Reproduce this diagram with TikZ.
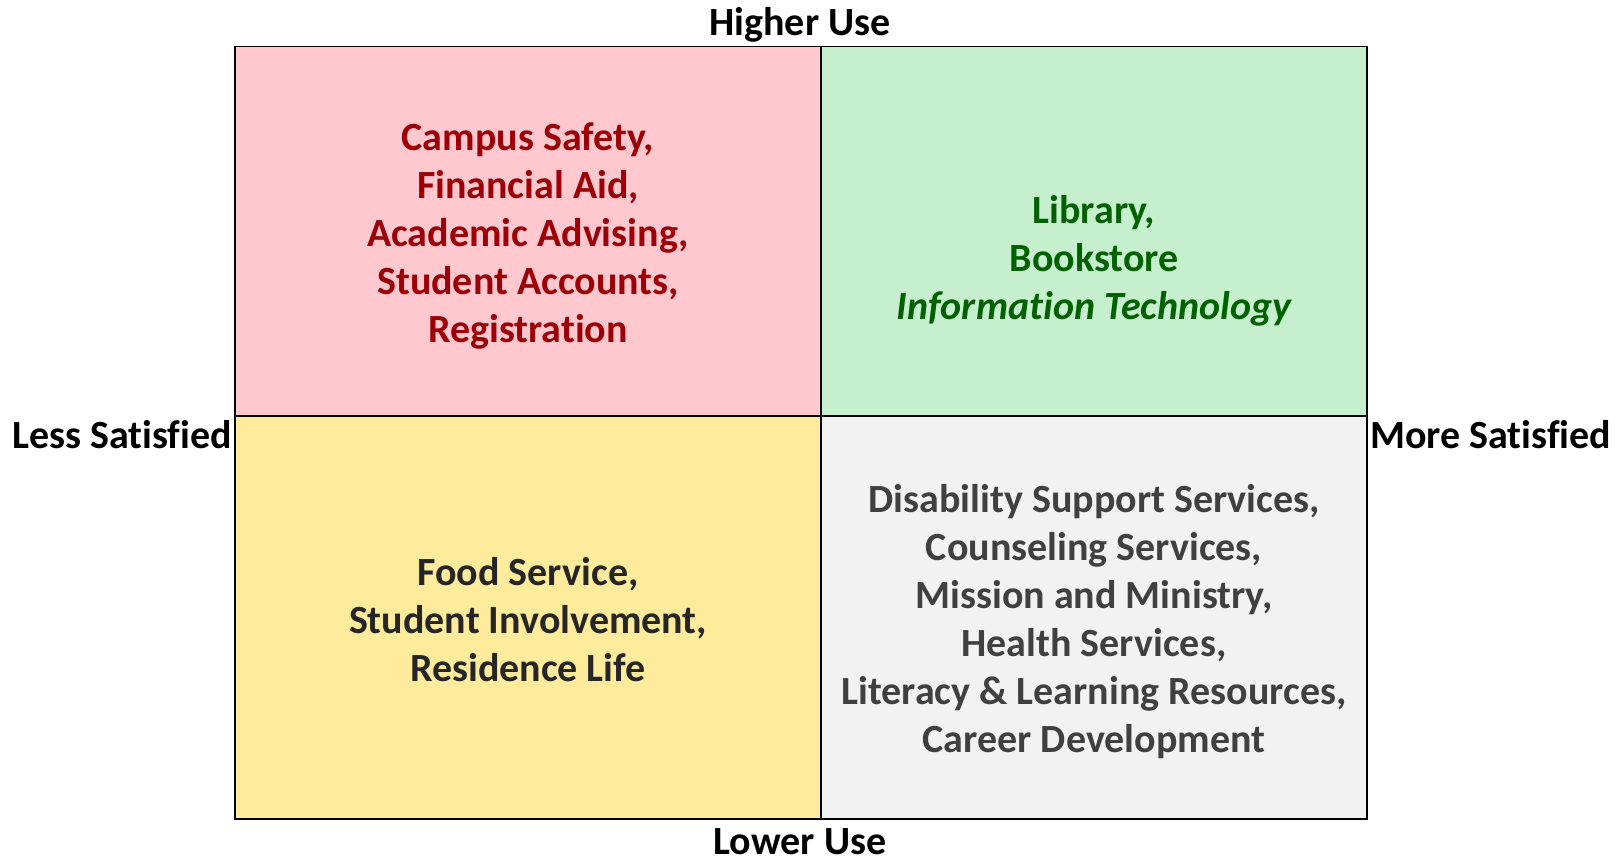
\documentclass[tikz,border=0pt]{standalone}
\usepackage{fontspec}
\setmainfont{Carlito}[Ligatures={NoCommon}]
\usepackage{xcolor}
\usetikzlibrary{
		calc,
		positioning
	}
\definecolor{badfill}{HTML}{FFC7CE}
\definecolor{badtext}{HTML}{9C0006}
\definecolor{goodfill}{HTML}{C6EFCE}
\definecolor{goodtext}{HTML}{006100}
\definecolor{midfill}{HTML}{FFEB9C}
\definecolor{midtext}{HTML}{262626}
\definecolor{greyfill}{HTML}{F2F2F2}
\definecolor{greytext}{HTML}{404040}
\tikzset{
		quadtext/.style={align=center, font=\fontsize{40}{48}\selectfont\bfseries, inner sep=0pt},
		axistext/.style={font=\fontsize{40}{48}\selectfont\bfseries, text=black, inner sep=0pt}
	}

\begin{document}
\begin{tikzpicture}[x=1pt, y=-1pt]
          \useasboundingbox (0,0) rectangle (1623,860);

          \coordinate (TL) at (235,46.6);
          \coordinate (TM) at (821,46.6);
          \coordinate (TR) at (1367,46.6);
          \coordinate (ML) at (235,416);
          \coordinate (MM) at (821,416);
          \coordinate (MR) at (1367,416);
          \coordinate (BL) at (235,819);
          \coordinate (BM) at (821,819);
          \coordinate (BR) at (1367,819);

          \fill[badfill] (TL) rectangle (MM);
          \fill[goodfill] (TM) rectangle (MR);
          \fill[midfill] (ML) rectangle (BM);
          \fill[greyfill] (MM) rectangle (BR);
          \draw[black, line width=1.2pt] (TL) rectangle (BR);
          \draw[black, line width=1.2pt] (TM) -- (BM);
          \draw[black, line width=1.2pt] (ML) -- (MR);

          \node[quadtext, text=badtext] (unsat) at (528,236)
          {Campus Safety,\\Financial Aid,\\Academic Advising,\\Student Accounts,\\Registration};
          \node[quadtext, text=goodtext] (sat) at (1094,261)
          {Library,\\Bookstore\\\itshape Information Technology};
          \node[quadtext, text=midtext] (lowuse) at (528,620)
          {Food Service,\\Student Involvement,\\Residence Life};
          \node[quadtext, text=greytext] (lowsat) at (1094,622)
          {Disability Support Services,\\Counseling Services,\\Mission and Ministry,\\Health Services,\\Literacy \& Learning Resources,\\Career Development};

          \node[axistext] (higher) at (800,25) {Higher Use};
          \node[axistext] (lower) at (800,842) {Lower Use};
          \node[axistext, anchor=east] (less) at (232,435) {Less Satisfied};
          \node[axistext, anchor=west] (more) at (1370,435) {More Satisfied};

          \end{tikzpicture}
\end{document}
